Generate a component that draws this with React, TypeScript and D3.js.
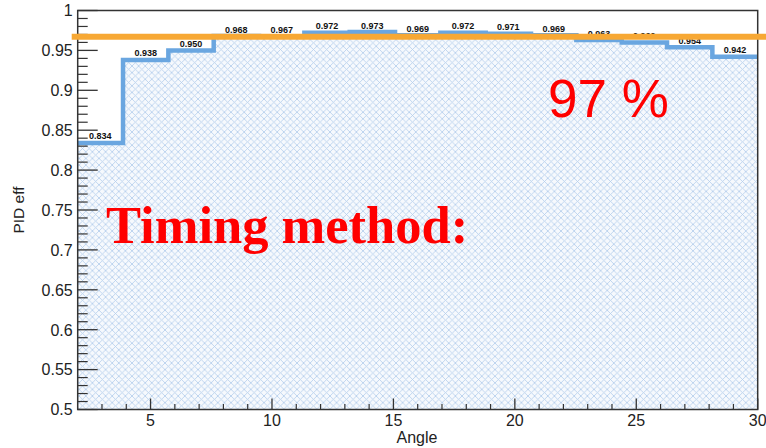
import React from "react";
import * as d3 from "d3";

// PID efficiency per angular bin (15 equal bins spanning 2..30)
const angleRange: [number, number] = [2, 30];
const pidEff = [
  0.834, 0.938, 0.95, 0.968, 0.967, 0.972, 0.973, 0.969, 0.972, 0.971, 0.969,
  0.963, 0.96, 0.954, 0.942,
];
const effLabels = [
  "0.834", "0.938", "0.950", "0.968", "0.967", "0.972", "0.973", "0.969",
  "0.972", "0.971", "0.969", "0.963", "0.960", "0.954", "0.942",
];
const referenceLevel = 0.967;
const xMajorTicks = [5, 10, 15, 20, 25, 30];
const yMajorTicks = [0.5, 0.55, 0.6, 0.65, 0.7, 0.75, 0.8, 0.85, 0.9, 0.95, 1];
const yTickLabels = ["0.5", "0.55", "0.6", "0.65", "0.7", "0.75", "0.8", "0.85", "0.9", "0.95", "1"];

const W = 766;
const H = 448;
const M = { left: 77.7, right: 757.7, top: 10.5, bottom: 409.5 };

export default function App() {
  const x = d3.scaleLinear().domain(angleRange).range([M.left, M.right]);
  const y = d3.scaleLinear().domain([0.5, 1]).range([M.bottom, M.top]);

  const nBins = pidEff.length;
  const binW = (angleRange[1] - angleRange[0]) / nBins;
  const pts: [number, number][] = pidEff.map((v, i) => [angleRange[0] + i * binW, v]);
  pts.push([angleRange[1], pidEff[nBins - 1]]);

  const line = d3
    .line<[number, number]>()
    .x((d) => x(d[0]))
    .y((d) => y(d[1]))
    .curve(d3.curveStepAfter);
  const area = d3
    .area<[number, number]>()
    .x((d) => x(d[0]))
    .y0(y(0.5))
    .y1((d) => y(d[1]))
    .curve(d3.curveStepAfter);

  const xMinor = d3.range(3, 30, 1).filter((v) => v % 5 !== 0);
  const yMinor = d3.range(50, 101, 1).map((v) => v / 100).filter((v) => Math.round(v * 100) % 5 !== 0);

  const sans = "'Liberation Sans', Arial, Helvetica, sans-serif";

  return (
    <svg
      width={W}
      height={H}
      style={{ position: "absolute", left: 0, top: 0, background: "#fff" }}
      fontFamily={sans}
    >
      <defs>
        <pattern id="xhatch" patternUnits="userSpaceOnUse" width={6.6} height={6.6}>
          <rect width={6.6} height={6.6} fill="#f6f9fd" />
          <path d="M0,0L6.6,6.6M6.6,0L0,6.6" stroke="#b6cfec" strokeWidth={0.85} />
        </pattern>
      </defs>

      {/* filled histogram */}
      <path d={area(pts) ?? ""} fill="url(#xhatch)" />
      <path d={line(pts) ?? ""} fill="none" stroke="#6aa6e0" strokeWidth={4.5} />

      {/* frame */}
      <rect
        x={M.left}
        y={M.top}
        width={M.right - M.left}
        height={M.bottom - M.top}
        fill="none"
        stroke="#333"
        strokeWidth={1.5}
      />

      {/* x axis ticks */}
      {xMajorTicks.map((t) => (
        <line key={"xM" + t} x1={x(t)} x2={x(t)} y1={M.bottom} y2={M.bottom - 11} stroke="#333" strokeWidth={1.3} />
      ))}
      {xMinor.map((t) => (
        <line key={"xm" + t} x1={x(t)} x2={x(t)} y1={M.bottom} y2={M.bottom - 5.5} stroke="#333" strokeWidth={1.2} />
      ))}
      {xMajorTicks.map((t) => (
        <text key={"xl" + t} x={x(t)} y={425.5} fontSize={16} textAnchor="middle" fill="#222">
          {t}
        </text>
      ))}
      <text x={417} y={442.5} fontSize={16} textAnchor="middle" fill="#222">
        Angle
      </text>

      {/* y axis ticks */}
      {yMajorTicks.map((t) => (
        <line key={"yM" + t} x1={M.left} x2={M.left + 20} y1={y(t)} y2={y(t)} stroke="#333" strokeWidth={1.3} />
      ))}
      {yMinor.map((t) => (
        <line key={"ym" + t} x1={M.left} x2={M.left + 10} y1={y(t)} y2={y(t)} stroke="#333" strokeWidth={1.2} />
      ))}
      {yMajorTicks.map((t, i) => (
        <text key={"yl" + t} x={72.7} y={y(t) + 5.8} fontSize={16} textAnchor="end" fill="#222">
          {yTickLabels[i]}
        </text>
      ))}
      <text
        transform={`translate(24,210) rotate(-90)`}
        fontSize={15.5}
        textAnchor="middle"
        fill="#222"
      >
        PID eff
      </text>

      {/* bin content labels */}
      {pidEff.map((v, i) => (
        <text
          key={"bl" + i}
          x={x(angleRange[0] + (i + 0.5) * binW)}
          y={y(v) - 3.5}
          fontSize={9}
          fontWeight="bold"
          textAnchor="middle"
          fill="#111"
        >
          {effLabels[i]}
        </text>
      ))}

      {/* reference efficiency level */}
      <line
        x1={x(angleRange[0]) - 6}
        x2={W}
        y1={y(referenceLevel)}
        y2={y(referenceLevel)}
        stroke="#f7a834"
        strokeWidth={6}
      />

      <text x={548} y={116.5} fontSize={53} fill="#ff0000" fontFamily={sans}>
        97 %
      </text>
      <text
        x={106}
        y={242.5}
        fontSize={52.5}
        fontWeight="bold"
        fill="#ff0000"
        fontFamily="'Liberation Serif', 'Times New Roman', serif"
      >
        Timing method:
      </text>
    </svg>
  );
}
